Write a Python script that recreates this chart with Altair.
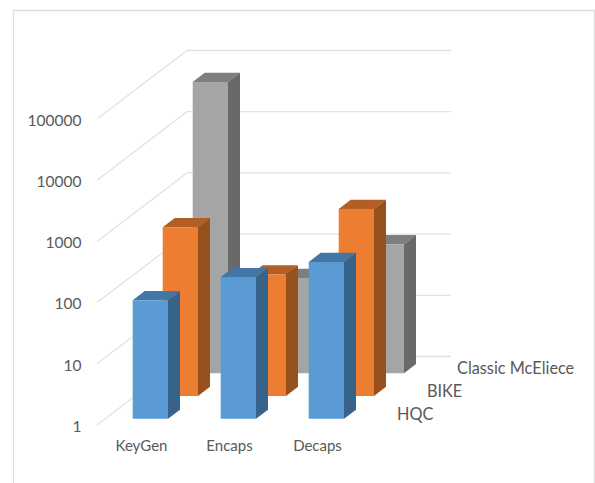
import json

import altair as alt
import numpy as np
import pandas as pd

# Series and operations of the timing comparison (front series first)
operations = ["KeyGen", "Encaps", "Decaps"]
series_names = ["HQC", "BIKE", "Classic McEliece"]
hqc_values = [87, 207, 367]
bike_values = [573, 97, 1140]
mceliece_values = [57500, 36, 128]
tick_values = [1, 10, 100, 1000, 10000, 100000]

front_colors = ["#5B9BD5", "#ED7D31", "#A5A5A5"]
side_colors = ["#37628A", "#96511C", "#696969"]
top_colors = ["#4376A5", "#B25E24", "#7E7E7E"]

# Oblique projection: one category is 88 px wide, one decade 61.2 px tall,
# and one step into the depth moves 30 px right and 22.83 px up.
CAT_PX = 88.0
DEC_PX = 61.2
SKEW_X = 30.0 / CAT_PX
SKEW_DEC = 22.83 / DEC_PX
BAR_WIDTH = 35.3 / CAT_PX
BAR_GAP = 27.6 / CAT_PX
BAR_DEPTH = 0.4
BAR_START = 0.27


def project_x(cat, depth):
    return cat + depth * SKEW_X


def project_y(value, depth):
    return value * 10 ** (depth * SKEW_DEC)


x_scale = alt.Scale(domain=[0, 498 / CAT_PX], range=[0, 498], nice=False, zero=False)
y_scale = alt.Scale(type="log", base=10, domain=[1, 10 ** (415 / DEC_PX)], range=[415, 0], nice=False)
x_axis = alt.Axis(
    values=[0.5, 1.5, 2.5], grid=False, domain=False, ticks=False, title=None,
    labelExpr=f"{json.dumps(operations)}[floor(datum.value)]",
    labelFont="Lato", labelFontSize=15, labelColor="#595959", labelPadding=13,
)
y_axis = alt.Axis(
    values=tick_values, format="d", grid=False, domain=False, ticks=False, title=None,
    labelFont="Lato", labelFontSize=15.5, labelColor="#595959", labelPadding=16, labelOffset=1.2,
)
X = alt.X("x:Q", scale=x_scale, axis=x_axis)
Y = alt.Y("y:Q", scale=y_scale, axis=y_axis)

# Chart frame
frame = alt.Chart(pd.DataFrame({"k": [0]})).mark_rect(
    fill="#ffffff", fillOpacity=0, stroke="#dcdcdc", strokeWidth=1.3
).encode(
    x=alt.value(-83.5), x2=alt.value(497.5), y=alt.value(0.5), y2=alt.value(520)
)

# Gridlines run along the left wall, then across the back wall
grid_rows = []
for v in tick_values:
    for order, (c, d) in enumerate([(0, 0), (0, 3), (3, 3)]):
        grid_rows.append({"tick": v, "order": order, "x": project_x(c, d), "y": project_y(v, d)})
grid = alt.Chart(pd.DataFrame(grid_rows)).mark_line(stroke="#e2e2e2", strokeWidth=1.3).encode(
    x=X, y=Y, detail="tick:N", order="order:Q"
)

layers = [frame, grid]
all_values = [hqc_values, bike_values, mceliece_values]

# Painted back to front so nearer columns cover farther ones
for s in [2, 1, 0]:
    d0 = s + BAR_START
    d1 = d0 + BAR_DEPTH
    front, side, top = [], [], []
    for c, value in enumerate(all_values[s]):
        left = c + BAR_GAP
        right = left + BAR_WIDTH
        front.append({
            "x": project_x(left, d0), "x2": project_x(right, d0),
            "y": project_y(value, d0), "y2": project_y(1, d0),
        })
        for d in (d0, d1):
            side.append({"bar": c, "x": project_x(right, d), "y": project_y(value, d), "y2": project_y(1, d)})
        # Top face: a parallelogram traced as a band between its front and back edges
        near, far = project_y(value, d0), project_y(value, d1)
        for px, low, high in [
            (project_x(left, d0), near, near),
            (project_x(left, d1), near, far),
            (project_x(right, d0), near, far),
            (project_x(right, d1), far, far),
        ]:
            top.append({"bar": c, "x": px, "y": high, "y2": low})
    layers.append(
        alt.Chart(pd.DataFrame(top)).mark_area(color=top_colors[s]).encode(
            x=X, y=Y, y2="y2:Q", detail="bar:N"
        )
    )
    layers.append(
        alt.Chart(pd.DataFrame(side)).mark_area(color=side_colors[s]).encode(
            x=X, y=Y, y2="y2:Q", detail="bar:N"
        )
    )
    layers.append(
        alt.Chart(pd.DataFrame(front)).mark_rect(color=front_colors[s]).encode(
            x=X, x2="x2:Q", y=Y, y2="y2:Q"
        )
    )

# Series names follow the depth axis on the right of the floor
depth_labels = pd.DataFrame({
    "name": series_names,
    "x": [project_x(3, i + 0.5) for i in range(3)],
    "y": [project_y(1, i + 0.5) for i in range(3)],
})
layers.append(
    alt.Chart(depth_labels).mark_text(
        align="left", baseline="middle", dx=21, dy=1,
        font="Lato", fontSize=16.3, color="#595959",
    ).encode(x=X, y=Y, text="name:N")
)

chart = alt.layer(*layers).properties(
    width=498, height=415,
    padding={"left": 97, "top": 10, "right": 0, "bottom": 58},
    autosize=alt.AutoSizeParams(type="none"),
    background="#ffffff",
).configure_view(stroke=None)

chart.save("out.html", embed_options={"renderer": "svg", "actions": False})
